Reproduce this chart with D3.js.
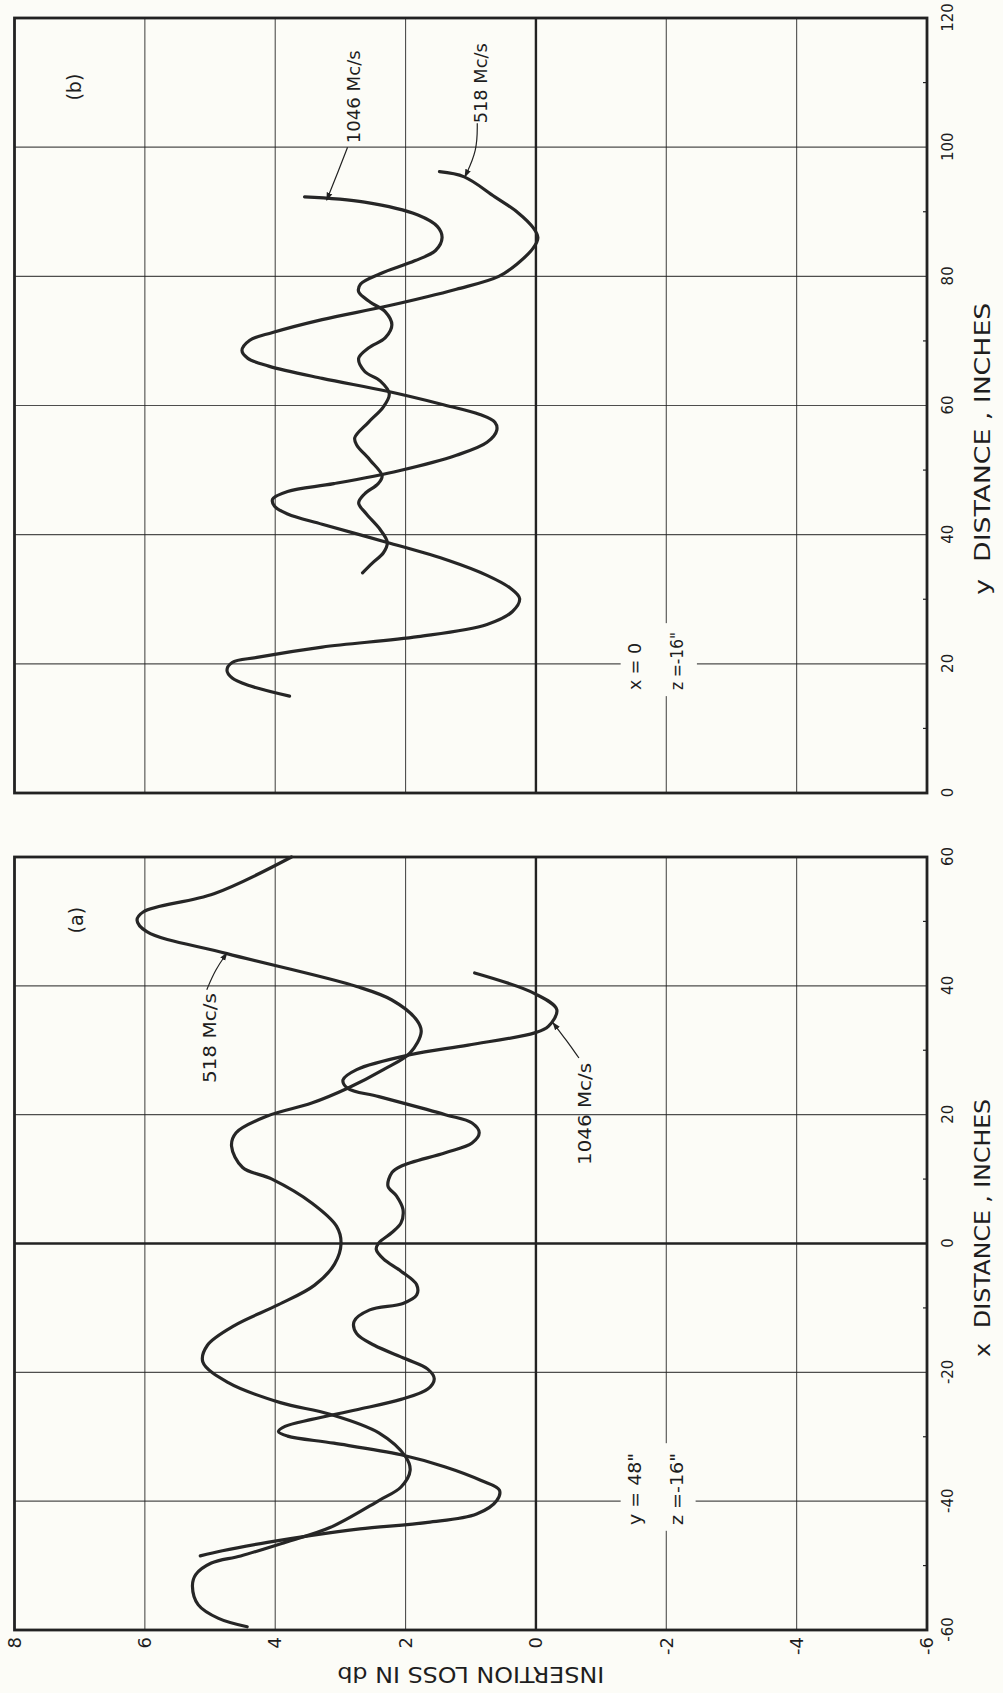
<!DOCTYPE html>
<html>
<head>
<meta charset="utf-8">
<script src="https://cdn.jsdelivr.net/npm/d3@7"></script>
<style>
  body { margin: 0; background: #fcfcf7; }
  svg { display: block; }
  text { fill: #1e1e1e; }
</style>
</head>
<body>
<svg id="fig" width="1003" height="1693"></svg>
<script>
// ---- axis ticks -----------------------------------------------------------
const lossTicks = [8, 6, 4, 2, 0, -2, -4, -6];
const xDistTicks = [-60, -40, -20, 0, 20, 40, 60];
const yDistTicks = [0, 20, 40, 60, 80, 100, 120];

// ---- (a) insertion loss vs x distance, y = 48", z = -16" -------------------
// [distance in inches, insertion loss in db]
const lossA518 = [
  [60.0, 3.75], [54.3, 4.94], [51.5, 6.02], [50.2, 6.12], [48.4, 5.97],
  [45.0, 4.74], [39.9, 2.75], [37.8, 2.21], [34.7, 1.83], [32.9, 1.76],
  [29.6, 1.93], [27.0, 2.34], [24.1, 2.89], [21.8, 3.44], [19.8, 4.12],
  [17.2, 4.60], [15.1, 4.67], [11.8, 4.50], [10.0, 4.05], [6.3, 3.44],
  [2.7, 3.06], [0.0, 2.99], [-3.2, 3.09], [-6.5, 3.40], [-9.5, 3.95],
  [-12.7, 4.62], [-15.8, 5.04], [-18.4, 5.11], [-21.6, 4.72], [-24.7, 3.92],
  [-26.5, 3.16], [-29.4, 2.41], [-33.1, 2.00], [-35.2, 1.93], [-37.8, 2.07],
  [-39.9, 2.41], [-44.1, 3.16], [-46.4, 3.85], [-48.5, 4.53], [-49.6, 4.98],
  [-51.4, 5.22], [-53.2, 5.27], [-56.1, 5.18], [-58.2, 4.87], [-59.5, 4.43]
];
const lossA1046 = [
  [42.0, 0.94], [38.8, 0.02], [36.3, -0.32], [33.7, -0.19], [32.7, 0.02],
  [30.8, 1.04], [29.3, 1.93], [27.0, 2.75], [25.4, 2.96], [24.1, 2.89],
  [22.8, 2.41], [20.0, 1.39], [18.7, 0.98], [17.2, 0.87], [15.6, 0.98],
  [14.1, 1.39], [12.0, 2.07], [11.0, 2.21], [8.9, 2.27], [7.4, 2.14],
  [5.3, 2.04], [3.2, 2.07], [1.7, 2.21], [0.1, 2.41], [-0.9, 2.45],
  [-2.4, 2.34], [-4.3, 2.07], [-6.4, 1.83], [-8.0, 1.83], [-9.3, 2.04],
  [-10.3, 2.55], [-12.1, 2.79], [-14.0, 2.75], [-15.8, 2.48], [-17.9, 2.00],
  [-19.5, 1.66], [-21.0, 1.56], [-22.6, 1.66], [-24.2, 2.07], [-25.8, 2.75],
  [-27.3, 3.44], [-28.4, 3.85], [-29.2, 3.95], [-29.9, 3.81], [-31.0, 3.10],
  [-32.8, 2.07], [-34.7, 1.39], [-36.8, 0.84], [-38.3, 0.56], [-39.9, 0.60],
  [-42.0, 0.91], [-43.3, 1.66], [-44.3, 2.70], [-45.3, 3.44], [-46.4, 4.12],
  [-47.7, 4.81], [-48.5, 5.15]
];

// ---- (b) insertion loss vs y distance, x = 0, z = -16" ---------------------
const lossB1046 = [
  [92.3, 3.55], [91.5, 2.63], [89.5, 1.81], [87.7, 1.51], [86.0, 1.44],
  [84.0, 1.54], [82.4, 1.86], [80.4, 2.39], [78.8, 2.69], [77.6, 2.72],
  [76.0, 2.54], [74.5, 2.31], [72.5, 2.21], [70.5, 2.31], [68.9, 2.57],
  [67.3, 2.72], [65.3, 2.63], [63.8, 2.39], [61.8, 2.25], [59.8, 2.34],
  [57.4, 2.57], [55.0, 2.78], [53.9, 2.75], [51.5, 2.54], [49.1, 2.36],
  [47.9, 2.42], [46.3, 2.63], [44.9, 2.72], [43.2, 2.60], [40.8, 2.39],
  [38.8, 2.28], [37.2, 2.34], [35.6, 2.51], [34.1, 2.66]
];
const lossB518 = [
  [96.2, 1.48], [95.4, 1.10], [92.3, 0.63], [89.9, 0.28], [87.5, 0.04],
  [86.0, -0.03], [84.4, 0.04], [82.0, 0.28], [80.0, 0.57], [78.0, 1.22],
  [75.4, 2.28], [73.3, 3.28], [71.3, 4.04], [70.1, 4.39], [68.5, 4.51],
  [67.3, 4.42], [66.1, 4.10], [64.2, 3.28], [62.2, 2.28], [60.2, 1.45],
  [58.6, 0.86], [57.4, 0.63], [56.2, 0.60], [54.3, 0.75], [52.3, 1.22],
  [49.9, 2.10], [47.9, 3.10], [46.7, 3.81], [45.5, 4.04], [44.4, 4.01],
  [43.2, 3.81], [41.6, 3.28], [38.8, 2.28], [36.0, 1.34], [33.7, 0.75],
  [31.7, 0.39], [30.1, 0.25], [28.1, 0.36], [26.1, 0.75], [24.2, 1.81],
  [22.6, 3.28], [21.0, 4.28], [20.2, 4.66], [19.0, 4.74], [17.8, 4.66],
  [16.6, 4.39], [15.0, 3.78]
];

// ---- figure frame ----------------------------------------------------------
// The chart is laid out in its natural orientation (distance across,
// loss up) and the whole group is then turned a quarter turn.
const svg = d3.select("#fig");
const W = 1693, H = 1003;
svg.append("rect").attr("width", 1003).attr("height", 1693).attr("fill", "#fcfcf7");
const fig = svg.append("g").attr("transform", `translate(0,${W}) rotate(-90)`);

const lossScale = d3.scaleLinear().domain([-6, 8]).range([927, 14.5]);
const xScaleA = d3.scaleLinear().domain([-60, 60]).range([63, 836]);
const xScaleB = d3.scaleLinear().domain([0, 120]).range([900, 1675]);

const INK = "#222";
const labelFont = "'DejaVu Sans', 'Liberation Sans', sans-serif";
const condFont = "'Liberation Sans Narrow', 'DejaVu Sans Condensed', 'Liberation Sans', sans-serif";

fig.append("defs").append("marker")
  .attr("id", "arrow").attr("viewBox", "0 0 10 10")
  .attr("refX", 9).attr("refY", 5)
  .attr("markerWidth", 7).attr("markerHeight", 7)
  .attr("orient", "auto-start-reverse")
  .append("path").attr("d", "M0,1.5 L10,5 L0,8.5 Z").attr("fill", INK);

function drawPanel(opt) {
  const xs = opt.xScale;
  const [u0, u1] = xs.range();
  const [v1, v0] = lossScale.range(); // v0 top, v1 bottom
  const g = fig.append("g");

  // grid
  g.selectAll("line.lossGrid")
    .data(lossTicks.filter(t => t !== 8 && t !== -6))
    .join("line")
    .attr("x1", u0).attr("x2", u1)
    .attr("y1", d => lossScale(d)).attr("y2", d => lossScale(d))
    .attr("stroke", INK)
    .attr("stroke-width", d => d === 0 ? 2.4 : 1.1)
    .attr("stroke-opacity", d => d === 0 ? 1 : 0.8);
  const dTicks = opt.ticks;
  g.selectAll("line.distGrid")
    .data(dTicks.slice(1, -1))
    .join("line")
    .attr("x1", d => xs(d)).attr("x2", d => xs(d))
    .attr("y1", v0).attr("y2", v1)
    .attr("stroke", INK)
    .attr("stroke-width", d => d === 0 ? 2.4 : 1.1)
    .attr("stroke-opacity", d => d === 0 ? 1 : 0.8);

  // minor ticks along the distance axis
  const minor = d3.range(dTicks[0] + 10, dTicks[dTicks.length - 1], 20);
  g.selectAll("line.minor").data(minor).join("line")
    .attr("x1", d => xs(d)).attr("x2", d => xs(d))
    .attr("y1", v1).attr("y2", v1 - 4)
    .attr("stroke", INK).attr("stroke-width", 1.2);

  // note block with a clear patch behind it
  const note = opt.note;
  g.append("rect")
    .attr("x", xs(note.clear[0])).attr("width", xs(note.clear[1]) - xs(note.clear[0]))
    .attr("y", lossScale(note.clearLoss[0]))
    .attr("height", lossScale(note.clearLoss[1]) - lossScale(note.clearLoss[0]))
    .attr("fill", "#fcfcf7");
  note.lines.forEach((ln, i) => {
    g.append("text")
      .attr("x", xs(note.at)).attr("y", lossScale(note.loss[i]))
      .attr("font-family", labelFont).attr("font-size", 17)
      .attr("textLength", ln.len).attr("lengthAdjust", "spacingAndGlyphs")
      .text(ln.text);
  });

  // border
  g.append("rect")
    .attr("x", u0).attr("y", v0)
    .attr("width", u1 - u0).attr("height", v1 - v0)
    .attr("fill", "none").attr("stroke", INK).attr("stroke-width", 2.8);

  // distance tick labels
  const axis = d3.axisBottom(xs).tickValues(dTicks).tickSize(0).tickPadding(15)
    .tickFormat(d => String(d));
  const ax = g.append("g").attr("transform", `translate(0,${v1})`).call(axis);
  ax.select(".domain").remove();
  ax.selectAll("text").attr("font-family", labelFont).attr("font-size", 15).attr("fill", "#1e1e1e");

  // distance axis title
  g.append("text")
    .attr("x", xs(opt.title.at)).attr("y", 990)
    .attr("font-family", condFont).attr("font-size", 21)
    .attr("textLength", opt.title.len).attr("lengthAdjust", "spacingAndGlyphs")
    .attr("xml:space", "preserve")
    .text(opt.title.text);

  // panel letter
  g.append("text")
    .attr("x", xs(opt.letter.at[0])).attr("y", lossScale(opt.letter.at[1]))
    .attr("text-anchor", "middle").attr("dominant-baseline", "central")
    .attr("font-family", labelFont).attr("font-size", 19)
    .text(opt.letter.text);

  // curves
  const line = d3.line()
    .x(d => xs(d[0])).y(d => lossScale(d[1]))
    .curve(d3.curveCatmullRom.alpha(0.5));
  opt.series.forEach(s => {
    g.append("path").datum(s.data).attr("d", line)
      .attr("fill", "none").attr("stroke", "#262626")
      .attr("stroke-width", 3.2).attr("stroke-linejoin", "round").attr("stroke-linecap", "round");
    const lb = s.label;
    g.append("text")
      .attr("x", xs(lb.at[0])).attr("y", lossScale(lb.at[1]))
      .attr("font-family", labelFont).attr("font-size", 18)
      .attr("textLength", lb.len).attr("lengthAdjust", "spacingAndGlyphs")
      .text(lb.text);
    const leader = d3.line().x(d => xs(d[0])).y(d => lossScale(d[1])).curve(d3.curveBasis);
    g.append("path").datum(lb.leader).attr("d", leader)
      .attr("fill", "none").attr("stroke", INK).attr("stroke-width", 1.2)
      .attr("marker-end", "url(#arrow)");
  });
}

drawPanel({
  xScale: xScaleA,
  ticks: xDistTicks,
  title: { text: "x  DISTANCE , INCHES", at: -17.6, len: 258 },
  letter: { text: "(a)", at: [50.2, 7.06] },
  note: {
    at: -43.7, loss: [-1.61, -2.25],
    clear: [-44.6, -31.0], clearLoss: [-1.3, -2.45],
    lines: [{ text: "y = 48\"", len: 72 }, { text: "z =-16\"", len: 72 }]
  },
  series: [
    { data: lossA518,
      label: { text: "518 Mc/s", at: [24.9, 4.91], len: 90,
               leader: [[39.4, 5.05], [42.5, 4.92], [45.1, 4.74]] } },
    { data: lossA1046,
      label: { text: "1046 Mc/s", at: [12.2, -0.84], len: 102,
               leader: [[28.8, -0.66], [31.5, -0.47], [34.3, -0.26]] } }
  ]
});

drawPanel({
  xScale: xScaleB,
  ticks: yDistTicks,
  title: { text: "y  DISTANCE , INCHES", at: 30.7, len: 292 },
  letter: { text: "(b)", at: [109.3, 7.09] },
  note: {
    at: 15.95, loss: [-1.61, -2.25],
    clear: [15.0, 26.3], clearLoss: [-1.3, -2.47],
    lines: [{ text: "x = 0", len: 47 }, { text: "z =-16\"", len: 58 }]
  },
  series: [
    { data: lossB1046,
      label: { text: "1046 Mc/s", at: [100.6, 2.70], len: 93,
               leader: [[100.0, 2.89], [95.8, 3.05], [91.8, 3.21]] } },
    { data: lossB518,
      label: { text: "518 Mc/s", at: [103.7, 0.75], len: 80,
               leader: [[103.7, 0.90], [99.5, 0.90], [95.4, 1.09]] } }
  ]
});

// insertion-loss axis, shared at the left of panel (a)
const lossAxis = d3.axisLeft(lossScale).tickValues(lossTicks).tickSize(0).tickPadding(7)
  .tickFormat(d => String(d));
const la = fig.append("g").attr("transform", `translate(${xScaleA.range()[0]},0)`).call(lossAxis);
la.select(".domain").remove();
la.selectAll("text").attr("font-family", labelFont).attr("font-size", 18).attr("fill", "#1e1e1e");

fig.append("text")
  .attr("transform", `translate(26,${lossScale(1)}) rotate(-90)`)
  .attr("text-anchor", "middle")
  .attr("font-family", condFont).attr("font-size", 22)
  .attr("textLength", 267).attr("lengthAdjust", "spacingAndGlyphs")
  .text("INSERTION LOSS IN db");
</script>
</body>
</html>
